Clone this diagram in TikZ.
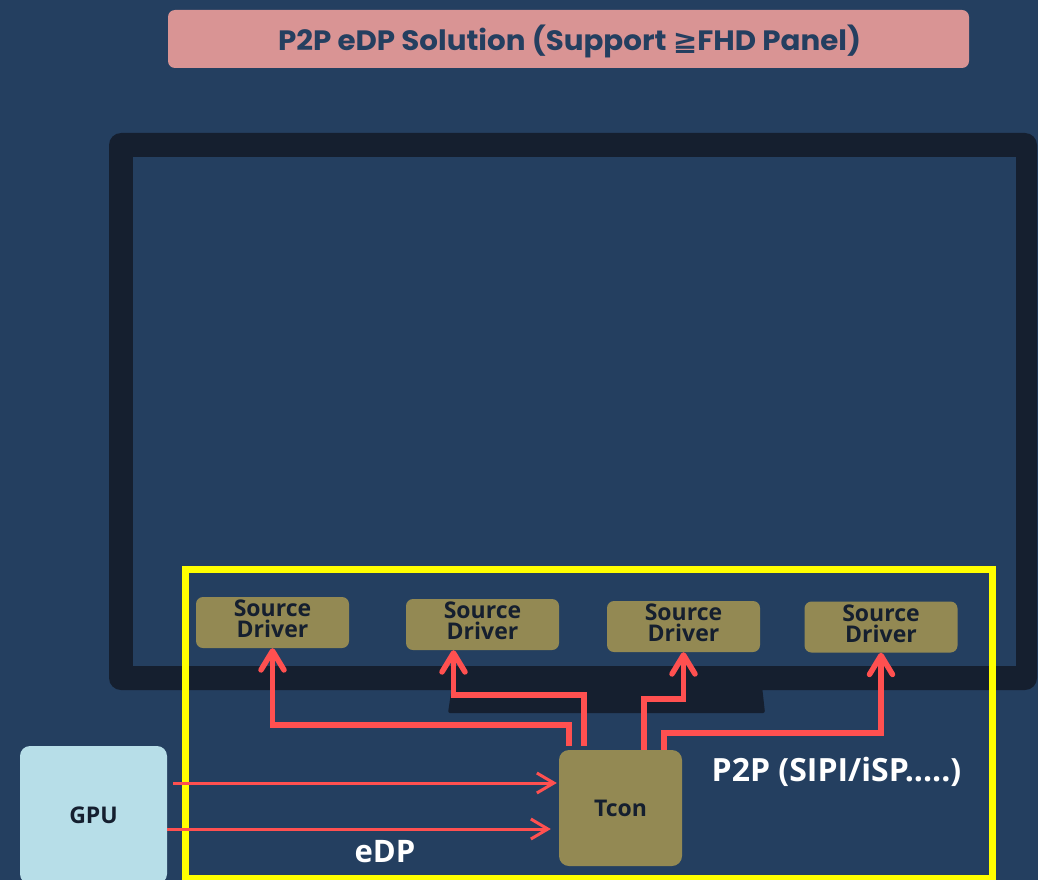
\documentclass[tikz,border=0pt]{standalone}
\usepackage{fontspec}
\usepackage{graphicx}
\setmainfont{Open Sans}
\newfontfamily\titlefont{Poppins}
\newfontfamily\symbolfont{DejaVu Sans}
\usetikzlibrary{arrows.meta,calc}

\definecolor{bgblue}{HTML}{243F60}
\definecolor{bezel}{HTML}{151F2F}
\definecolor{titlepink}{HTML}{D99494}
\definecolor{chipolive}{HTML}{938953}
\definecolor{gpublue}{HTML}{B7DEE8}
\definecolor{linkred}{HTML}{FF5050}
\definecolor{framey}{HTML}{FFFF00}

\tikzset{
  chip/.style={fill=chipolive, rounded corners=7pt, inner sep=0pt,
    text=bezel, font=\bfseries\fontsize{23}{21}\selectfont, align=center},
  driver/.style={chip, minimum width=153pt, minimum height=51pt, text depth=7pt},
  bus/.style={draw=linkred, line width=5.5pt, miter limit=10,
    -{Straight Barb[length=19pt,width=23pt,round]}},
  edplink/.style={draw=linkred, line width=3pt,
    -{Straight Barb[length=17pt,width=20pt]}},
  whitelabel/.style={text=white, font=\bfseries\fontsize{31}{31}\selectfont, inner sep=0pt},
}

\begin{document}
\begin{tikzpicture}[x=1pt,y=-1pt]
  % canvas
  \fill[bgblue] (0,0) rectangle (1038,880);
  \useasboundingbox (0,0) rectangle (1038,880);

  % title banner
  \node[fill=titlepink, rounded corners=7pt, minimum width=801pt, minimum height=58pt,
        inner sep=0pt] (banner) at (568.5,39) {};
  \node[anchor=base, text=bgblue, inner sep=0pt] (title) at (569.5,51)
    {\resizebox{583pt}{\height}{\titlefont\bfseries\fontsize{28}{28}\selectfont
      P2P eDP Solution (Support {\symbolfont\bfseries ≧}FHD Panel)}};

  % monitor: bezel, screen and stand
  \fill[bezel, rounded corners=12pt] (109,133) rectangle (1037,690);
  \fill[bgblue] (133,157) rectangle (1016,666);
  \fill[bezel, rounded corners=2pt] (452,686) -- (762,686) -- (765,713) -- (448,713) -- cycle;

  % panel electronics outline
  \draw[framey, line width=7pt] (185,569) rectangle (992,878);

  % source drivers
  \node[driver] (sd1) at (272.5,622.5) {Source\\Driver};
  \node[driver] (sd2) at (482.5,624.5) {Source\\Driver};
  \node[driver] (sd3) at (683.5,626.5) {Source\\Driver};
  \node[driver] (sd4) at (881,627) {Source\\Driver};

  % timing controller and GPU
  \node[chip, rounded corners=10pt, minimum width=123pt, minimum height=116pt,
        text depth=0pt, font=\bfseries\fontsize{23}{23}\selectfont] (tcon) at (620.5,808) {Tcon};
  \node[fill=gpublue, rounded corners=10pt, minimum width=147pt, minimum height=138pt,
        inner sep=0pt, text=bezel, text depth=0pt,
        font=\bfseries\fontsize{23}{23}\selectfont] (gpu) at (93.5,815) {GPU};

  % P2P links from Tcon to the source drivers
  \coordinate (tap2) at ([xshift=-29pt]sd2.south);
  \draw[bus] ([xshift=10pt,yshift=4pt]tcon.north west) |- (sd1.south |- 0,725) -- (sd1.south);
  \draw[bus] ([xshift=25pt,yshift=4pt]tcon.north west) |- (tap2 |- 0,695) -- (tap2);
  \draw[bus] ([xshift=85pt]tcon.north west) |- (sd3.south |- 0,699) -- (sd3.south);
  \draw[bus] ([xshift=105pt]tcon.north west) |- (sd4.south |- 0,733) -- (sd4.south);

  % eDP links from GPU to Tcon
  \draw[edplink, shorten <=6pt, shorten >=2pt] (gpu.east |- 0,783) -- (tcon.west |- 0,783);
  \draw[edplink, shorten >=8pt] (gpu.east |- 0,829) -- (tcon.west |- 0,829);

  % link labels
  \node[whitelabel, anchor=base] (edplabel) at (385,862) {eDP};
  \node[whitelabel, anchor=base west, font=\bfseries\fontsize{32}{32}\selectfont] (p2plabel)
    at (711.5,781) {P2P (SIPI/iSP.....)};
\end{tikzpicture}
\end{document}
